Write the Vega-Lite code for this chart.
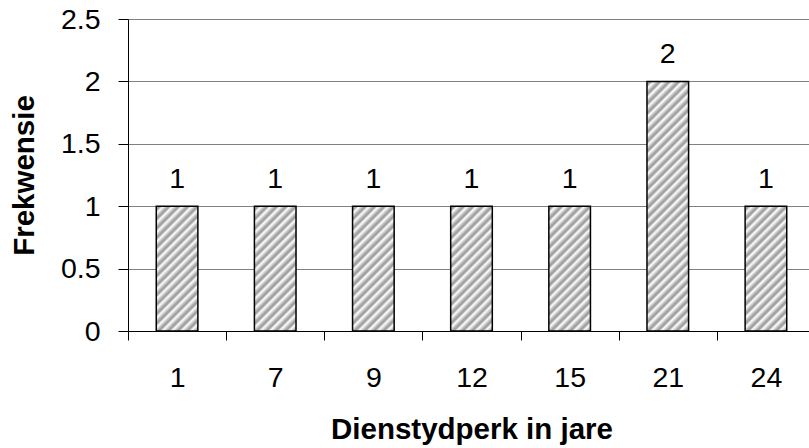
{
  "$schema": "https://vega.github.io/schema/vega-lite/v6.json",
  "width": 681,
  "height": 312,
  "autosize": {"type": "none"},
  "padding": {"left": 128, "top": 19, "right": 0, "bottom": 117},
  "background": "white",
  "config": {
    "font": "Liberation Sans",
    "view": {"stroke": null},
    "axis": {
      "labelFont": "Liberation Sans",
      "titleFont": "Liberation Sans",
      "labelColor": "#000000",
      "titleColor": "#000000",
      "domainColor": "#000000",
      "tickColor": "#000000",
      "domainWidth": 1,
      "tickWidth": 1
    }
  },
  "data": {
    "values": [
      {"Dienstydperk": 1, "Frekwensie": 1},
      {"Dienstydperk": 7, "Frekwensie": 1},
      {"Dienstydperk": 9, "Frekwensie": 1},
      {"Dienstydperk": 12, "Frekwensie": 1},
      {"Dienstydperk": 15, "Frekwensie": 1},
      {"Dienstydperk": 21, "Frekwensie": 2},
      {"Dienstydperk": 24, "Frekwensie": 1}
    ]
  },
  "encoding": {
    "x": {
      "field": "Dienstydperk",
      "type": "ordinal",
      "scale": {"range": [0, 687], "paddingInner": 0, "paddingOuter": 0},
      "axis": {
        "title": "Dienstydperk in jare",
        "labelAngle": 0,
        "labelFontSize": 28.5,
        "labelPadding": 23,
        "tickSize": 9,
        "tickBand": "extent",
        "grid": false,
        "titleFontSize": 29.5,
        "titleFontWeight": "bold",
        "titleBaseline": "alphabetic",
        "titleY": 107
      }
    },
    "y": {
      "field": "Frekwensie",
      "type": "quantitative",
      "scale": {"domain": [0, 2.5], "nice": false},
      "axis": {
        "title": "Frekwensie",
        "values": [0, 0.5, 1, 1.5, 2, 2.5],
        "format": "~g",
        "labelFontSize": 28.5,
        "labelPadding": 18,
        "tickSize": 10,
        "grid": true,
        "gridColor": "#808080",
        "gridWidth": 1,
        "titleFontSize": 29.5,
        "titleFontWeight": "bold",
        "titleAngle": -90,
        "titleAlign": "center",
        "titleBaseline": "alphabetic",
        "titleX": -95,
        "titleY": 156
      }
    }
  },
  "layer": [
    {
      "transform": [{"filter": "datum.Frekwensie == 1"}],
      "mark": {
        "type": "bar",
        "width": {"band": 0.424},
        "stroke": "#000000",
        "strokeWidth": 1.5,
        "fill": {
          "gradient": "linear",
          "x1": 0, "y1": 0, "x2": 0.4, "y2": 1.2,
          "stops": [
            {"offset": 0, "color": "#ffffff"},
            {"offset": 0.01714, "color": "#a0a0a0"}, {"offset": 0.02571, "color": "#a0a0a0"}, {"offset": 0.04286, "color": "#ffffff"},
            {"offset": 0.07429, "color": "#a0a0a0"}, {"offset": 0.08286, "color": "#a0a0a0"}, {"offset": 0.1, "color": "#ffffff"},
            {"offset": 0.13143, "color": "#a0a0a0"}, {"offset": 0.14, "color": "#a0a0a0"}, {"offset": 0.15714, "color": "#ffffff"},
            {"offset": 0.18857, "color": "#a0a0a0"}, {"offset": 0.19714, "color": "#a0a0a0"}, {"offset": 0.21429, "color": "#ffffff"},
            {"offset": 0.24571, "color": "#a0a0a0"}, {"offset": 0.25429, "color": "#a0a0a0"}, {"offset": 0.27143, "color": "#ffffff"},
            {"offset": 0.30286, "color": "#a0a0a0"}, {"offset": 0.31143, "color": "#a0a0a0"}, {"offset": 0.32857, "color": "#ffffff"},
            {"offset": 0.36, "color": "#a0a0a0"}, {"offset": 0.36857, "color": "#a0a0a0"}, {"offset": 0.38571, "color": "#ffffff"},
            {"offset": 0.41714, "color": "#a0a0a0"}, {"offset": 0.42571, "color": "#a0a0a0"}, {"offset": 0.44286, "color": "#ffffff"},
            {"offset": 0.47429, "color": "#a0a0a0"}, {"offset": 0.48286, "color": "#a0a0a0"}, {"offset": 0.5, "color": "#ffffff"},
            {"offset": 0.53143, "color": "#a0a0a0"}, {"offset": 0.54, "color": "#a0a0a0"}, {"offset": 0.55714, "color": "#ffffff"},
            {"offset": 0.58857, "color": "#a0a0a0"}, {"offset": 0.59714, "color": "#a0a0a0"}, {"offset": 0.61429, "color": "#ffffff"},
            {"offset": 0.64571, "color": "#a0a0a0"}, {"offset": 0.65429, "color": "#a0a0a0"}, {"offset": 0.67143, "color": "#ffffff"},
            {"offset": 0.70286, "color": "#a0a0a0"}, {"offset": 0.71143, "color": "#a0a0a0"}, {"offset": 0.72857, "color": "#ffffff"},
            {"offset": 0.76, "color": "#a0a0a0"}, {"offset": 0.76857, "color": "#a0a0a0"}, {"offset": 0.78571, "color": "#ffffff"},
            {"offset": 0.81714, "color": "#a0a0a0"}, {"offset": 0.82571, "color": "#a0a0a0"}, {"offset": 0.84286, "color": "#ffffff"},
            {"offset": 0.87429, "color": "#a0a0a0"}, {"offset": 0.88286, "color": "#a0a0a0"}, {"offset": 0.9, "color": "#ffffff"},
            {"offset": 0.93143, "color": "#a0a0a0"}, {"offset": 0.94, "color": "#a0a0a0"}, {"offset": 0.95714, "color": "#ffffff"},
            {"offset": 0.98857, "color": "#a0a0a0"}, {"offset": 1, "color": "#a0a0a0"}
          ]
        }
      }
    },
    {
      "transform": [{"filter": "datum.Frekwensie == 2"}],
      "mark": {
        "type": "bar",
        "width": {"band": 0.424},
        "stroke": "#000000",
        "strokeWidth": 1.5,
        "fill": {
          "gradient": "linear",
          "x1": 0, "y1": 0, "x2": 0.18919, "y2": 1.13514,
          "stops": [
            {"offset": 0, "color": "#ffffff"},
            {"offset": 0.00979, "color": "#a0a0a0"}, {"offset": 0.01468, "color": "#a0a0a0"}, {"offset": 0.02447, "color": "#ffffff"},
            {"offset": 0.04242, "color": "#a0a0a0"}, {"offset": 0.04731, "color": "#a0a0a0"}, {"offset": 0.0571, "color": "#ffffff"},
            {"offset": 0.07504, "color": "#a0a0a0"}, {"offset": 0.07993, "color": "#a0a0a0"}, {"offset": 0.08972, "color": "#ffffff"},
            {"offset": 0.10767, "color": "#a0a0a0"}, {"offset": 0.11256, "color": "#a0a0a0"}, {"offset": 0.12235, "color": "#ffffff"},
            {"offset": 0.1403, "color": "#a0a0a0"}, {"offset": 0.14519, "color": "#a0a0a0"}, {"offset": 0.15498, "color": "#ffffff"},
            {"offset": 0.17292, "color": "#a0a0a0"}, {"offset": 0.17781, "color": "#a0a0a0"}, {"offset": 0.1876, "color": "#ffffff"},
            {"offset": 0.20555, "color": "#a0a0a0"}, {"offset": 0.21044, "color": "#a0a0a0"}, {"offset": 0.22023, "color": "#ffffff"},
            {"offset": 0.23817, "color": "#a0a0a0"}, {"offset": 0.24306, "color": "#a0a0a0"}, {"offset": 0.25285, "color": "#ffffff"},
            {"offset": 0.2708, "color": "#a0a0a0"}, {"offset": 0.27569, "color": "#a0a0a0"}, {"offset": 0.28548, "color": "#ffffff"},
            {"offset": 0.30343, "color": "#a0a0a0"}, {"offset": 0.30832, "color": "#a0a0a0"}, {"offset": 0.31811, "color": "#ffffff"},
            {"offset": 0.33605, "color": "#a0a0a0"}, {"offset": 0.34094, "color": "#a0a0a0"}, {"offset": 0.35073, "color": "#ffffff"},
            {"offset": 0.36868, "color": "#a0a0a0"}, {"offset": 0.37357, "color": "#a0a0a0"}, {"offset": 0.38336, "color": "#ffffff"},
            {"offset": 0.40131, "color": "#a0a0a0"}, {"offset": 0.4062, "color": "#a0a0a0"}, {"offset": 0.41599, "color": "#ffffff"},
            {"offset": 0.43393, "color": "#a0a0a0"}, {"offset": 0.43882, "color": "#a0a0a0"}, {"offset": 0.44861, "color": "#ffffff"},
            {"offset": 0.46656, "color": "#a0a0a0"}, {"offset": 0.47145, "color": "#a0a0a0"}, {"offset": 0.48124, "color": "#ffffff"},
            {"offset": 0.49919, "color": "#a0a0a0"}, {"offset": 0.50408, "color": "#a0a0a0"}, {"offset": 0.51387, "color": "#ffffff"},
            {"offset": 0.53181, "color": "#a0a0a0"}, {"offset": 0.5367, "color": "#a0a0a0"}, {"offset": 0.54649, "color": "#ffffff"},
            {"offset": 0.56444, "color": "#a0a0a0"}, {"offset": 0.56933, "color": "#a0a0a0"}, {"offset": 0.57912, "color": "#ffffff"},
            {"offset": 0.59707, "color": "#a0a0a0"}, {"offset": 0.60196, "color": "#a0a0a0"}, {"offset": 0.61175, "color": "#ffffff"},
            {"offset": 0.62969, "color": "#a0a0a0"}, {"offset": 0.63458, "color": "#a0a0a0"}, {"offset": 0.64437, "color": "#ffffff"},
            {"offset": 0.66232, "color": "#a0a0a0"}, {"offset": 0.66721, "color": "#a0a0a0"}, {"offset": 0.677, "color": "#ffffff"},
            {"offset": 0.69494, "color": "#a0a0a0"}, {"offset": 0.69983, "color": "#a0a0a0"}, {"offset": 0.70962, "color": "#ffffff"},
            {"offset": 0.72757, "color": "#a0a0a0"}, {"offset": 0.73246, "color": "#a0a0a0"}, {"offset": 0.74225, "color": "#ffffff"},
            {"offset": 0.7602, "color": "#a0a0a0"}, {"offset": 0.76509, "color": "#a0a0a0"}, {"offset": 0.77488, "color": "#ffffff"},
            {"offset": 0.79282, "color": "#a0a0a0"}, {"offset": 0.79771, "color": "#a0a0a0"}, {"offset": 0.8075, "color": "#ffffff"},
            {"offset": 0.82545, "color": "#a0a0a0"}, {"offset": 0.83034, "color": "#a0a0a0"}, {"offset": 0.84013, "color": "#ffffff"},
            {"offset": 0.85808, "color": "#a0a0a0"}, {"offset": 0.86297, "color": "#a0a0a0"}, {"offset": 0.87276, "color": "#ffffff"},
            {"offset": 0.8907, "color": "#a0a0a0"}, {"offset": 0.89559, "color": "#a0a0a0"}, {"offset": 0.90538, "color": "#ffffff"},
            {"offset": 0.92333, "color": "#a0a0a0"}, {"offset": 0.92822, "color": "#a0a0a0"}, {"offset": 0.93801, "color": "#ffffff"},
            {"offset": 0.95596, "color": "#a0a0a0"}, {"offset": 0.96085, "color": "#a0a0a0"}, {"offset": 0.97064, "color": "#ffffff"},
            {"offset": 0.98858, "color": "#a0a0a0"}, {"offset": 1, "color": "#a0a0a0"}
          ]
        }
      }
    },
    {
      "mark": {
        "type": "text",
        "baseline": "alphabetic",
        "align": "center",
        "dy": -18,
        "fontSize": 28.5,
        "font": "Liberation Sans",
        "color": "#000000"
      },
      "encoding": {
        "text": {"field": "Frekwensie", "type": "quantitative"}
      }
    }
  ]
}
